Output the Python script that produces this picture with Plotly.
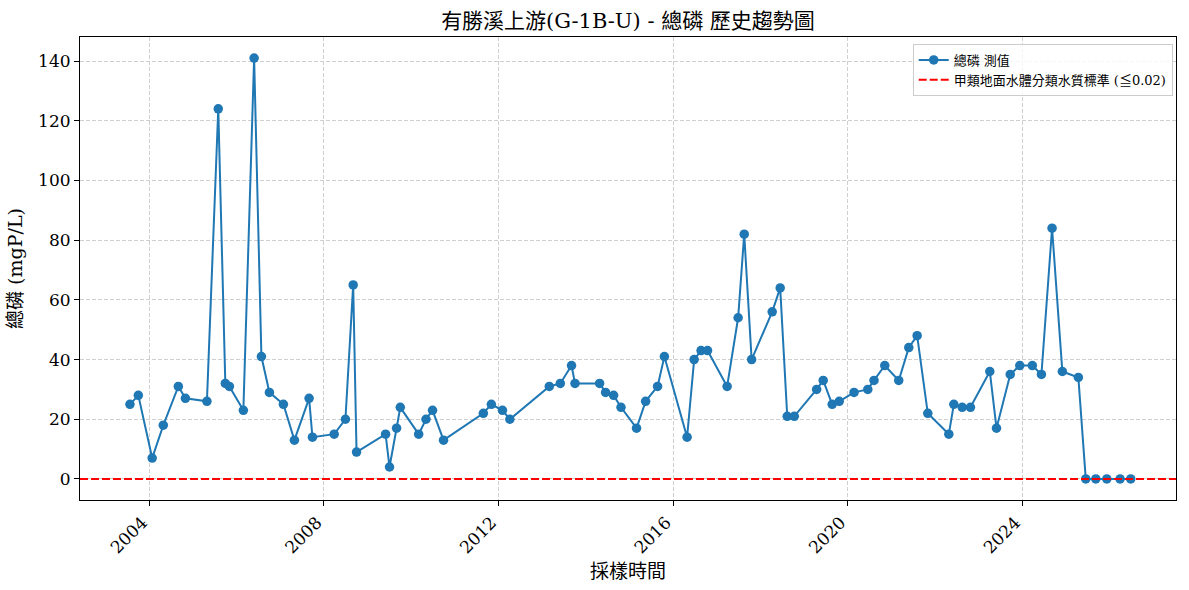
import plotly.graph_objects as go

dates = [
    "2003-07-23", "2003-10-01", "2004-01-25", "2004-04-27", "2004-08-31", "2004-10-29",
    "2005-04-27", "2005-07-31", "2005-09-28", "2005-11-01", "2006-02-26", "2006-05-27",
    "2006-07-27", "2006-10-02", "2007-01-27", "2007-04-29", "2007-08-30", "2007-09-27",
    "2008-03-27", "2008-06-29", "2008-09-02", "2008-09-30", "2009-05-31", "2009-07-03",
    "2009-08-31", "2009-10-01", "2010-03-04", "2010-05-04", "2010-06-28", "2010-09-28",
    "2011-08-27", "2011-11-02", "2012-02-03", "2012-04-05", "2013-03-01", "2013-06-01",
    "2013-09-03", "2013-10-02", "2014-04-26", "2014-06-15", "2014-08-21", "2014-10-22",
    "2015-03-01", "2015-05-16", "2015-08-24", "2015-10-20", "2016-04-27", "2016-06-25",
    "2016-08-22", "2016-10-15", "2017-03-28", "2017-06-28", "2017-08-18", "2017-10-19",
    "2018-04-09", "2018-06-15", "2018-08-13", "2018-10-11", "2019-04-16", "2019-06-10",
    "2019-08-24", "2019-10-22", "2020-02-23", "2020-06-17", "2020-08-08", "2020-11-06",
    "2021-03-03", "2021-05-26", "2021-08-04", "2021-11-01", "2022-04-26", "2022-06-07",
    "2022-08-16", "2022-10-24", "2023-04-04", "2023-05-30", "2023-09-22", "2023-12-11",
    "2024-03-25", "2024-06-09", "2024-09-06", "2024-12-01", "2025-04-14", "2025-06-15",
    "2025-09-07", "2025-12-08", "2026-03-29", "2026-06-26",
]
values = [
    25, 28, 7, 18, 31, 27, 26, 124, 32, 31,
    23, 141, 41, 29, 25, 13, 27, 14, 15, 20,
    65, 9, 15, 4, 17, 24, 15, 20, 23, 13,
    22, 25, 23, 20, 31, 32, 38, 32, 32, 29,
    28, 24, 17, 26, 31, 41, 14, 40, 43, 43,
    31, 54, 82, 40, 56, 64, 21, 21, 30, 33,
    25, 26, 29, 30, 33, 38, 33, 44, 48, 22,
    15, 25, 24, 24, 36, 17, 35, 38, 38, 35,
    84, 36, 34, 0, 0, 0, 0, 0,
]
standard = 0.02
series_name = "總磷 測值"
standard_name = "甲類地面水體分類水質標準 (≦0.02)"
title = "有勝溪上游(G-1B-U) - 總磷 歷史趨勢圖"
x_title = "採樣時間"
y_title = "總磷 (mgP/L)"
y_ticks = [0, 20, 40, 60, 80, 100, 120, 140]

FONT = "DejaVu Serif, Noto Sans CJK TC, serif"

fig = go.Figure()
fig.add_trace(go.Scatter(
    x=dates, y=values, mode="lines+markers", name=series_name,
    line=dict(color="#1f77b4", width=2),
    marker=dict(color="#1f77b4", size=9.5),
))
fig.add_trace(go.Scatter(
    x=[None], y=[None], mode="lines", name=standard_name,
    line=dict(color="red", width=2, dash="8px,3px"),
))
fig.add_hline(y=standard, line=dict(color="red", width=2, dash="8px,3px"))

axis_common = dict(
    showline=True, linecolor="black", linewidth=1.1, mirror=True,
    ticks="outside", ticklen=5, tickcolor="black",
    showgrid=True, gridcolor="#cfcfcf", griddash="4px,2px", gridwidth=1,
    zeroline=False, tickfont=dict(family=FONT, size=17, color="black"),
)

fig.update_layout(
    width=1189, height=590,
    paper_bgcolor="white", plot_bgcolor="white",
    margin=dict(l=80, r=13, t=37, b=90),
    font=dict(family=FONT, color="black"),
    title=dict(text=title, xref="paper", x=0.5, xanchor="center", y=0.965, yanchor="middle",
               font=dict(family=FONT, size=21, color="black")),
    showlegend=True,
    legend=dict(x=0.997, y=0.985, xanchor="right", yanchor="top",
                bgcolor="rgba(255,255,255,0.8)", bordercolor="#cccccc", borderwidth=1,
                font=dict(family=FONT, size=13, color="black")),
    xaxis=dict(
        **axis_common,
        type="date", range=["2002-05-31", "2027-07-10"],
        tick0="2004-01-01", dtick="M48", tickformat="%Y", tickangle=-45,
        ticklabelshift=-7,
        title=dict(text=x_title, font=dict(family=FONT, size=19, color="black"), standoff=8),
    ),
    yaxis=dict(
        **axis_common,
        range=[-7.05, 148.05], tickvals=y_ticks,
        title=dict(text=y_title, font=dict(family=FONT, size=19, color="black"), standoff=10),
    ),
)

fig.write_html("out.html", config={"displayModeBar": False},
               post_script="document.body.style.margin='0';")
